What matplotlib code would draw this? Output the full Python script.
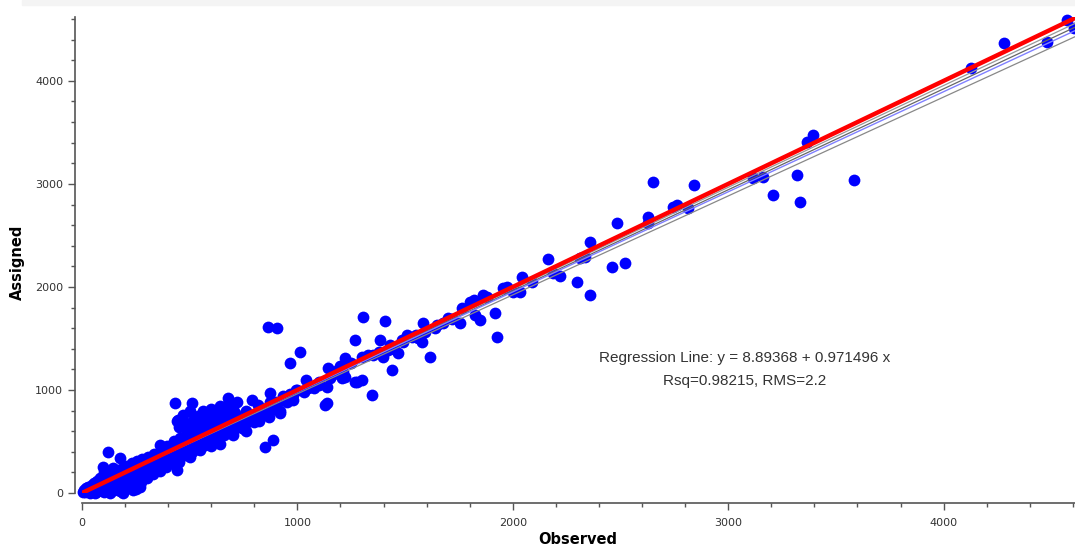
import numpy as np
import matplotlib.pyplot as plt
from matplotlib.patches import Rectangle
from matplotlib.ticker import MultipleLocator

# observed / assigned pairs
obs_a = [5, 10, 15, 20, 25, 30, 35, 40, 45, 50, 55, 60, 65, 70, 75, 80, 85, 90, 95, 100,
         105, 110, 115, 120, 125, 130, 135, 140, 145, 150, 160, 165, 170, 175, 180, 190, 195, 200, 205, 210,
         220, 225, 230, 240, 245, 250, 255, 260, 270, 275, 280, 290, 295, 300, 60, 100, 130, 150, 200,
         121, 237, 269, 190]
asg_a = [10, 30, 5, 50, 20, 60, 0, 40, 80, 20, 100, 50, 10, 120, 70, 30, 150, 90, 40, 200,
         110, 60, 160, 30, 130, 90, 180, 70, 240, 120, 60, 190, 140, 20, 230, 100, 170, 40, 260, 150,
         200, 90, 290, 140, 230, 40, 310, 180, 250, 110, 330, 200, 270, 150, 0, 10, 0, 30, 80,
         398, 29, 58, 0]

obs_b = [305, 315, 320, 330, 335, 345, 350, 360, 365, 375, 380, 390, 395, 405, 410, 420, 425, 435, 440, 450,
         455, 465, 470, 480, 485, 495, 500, 510, 515, 525, 530, 540, 545, 555, 560, 570, 575, 585, 590, 600,
         605, 615, 620, 630, 640, 650, 660, 665, 675, 690, 700, 710, 720, 735, 750, 760, 775, 790, 800, 815,
         830, 845, 860, 875, 890, 905, 920, 935, 950, 965, 980, 995]
asg_b = [350, 240, 300, 180, 380, 270, 330, 210, 420, 300, 370, 250, 460, 340, 400, 290, 500, 380, 440, 330,
         530, 420, 480, 370, 560, 450, 510, 400, 620, 490, 550, 430, 660, 520, 580, 470, 700, 560, 620, 500,
         740, 590, 650, 530, 700, 610, 560, 760, 640, 690, 600, 780, 660, 720, 640, 800, 700, 760, 690, 850,
         760, 820, 760, 880, 820, 870, 800, 940, 880, 960, 900, 1000]

obs_c = [432, 510, 445, 677, 687, 789, 872, 849, 886, 1137, 440, 470, 500, 520, 540, 560, 580, 600, 620, 640,
         660, 680, 700, 720, 450, 480, 510, 530, 550, 570, 590, 610, 630, 650, 670, 690,
         450, 500, 550, 600, 640, 700, 760, 820, 870, 920, 362, 441, 362, 283, 260, 176, 97,
         608, 742, 487, 580, 863, 905, 1012, 965]
asg_c = [873, 873, 708, 921, 824, 902, 970, 446, 514, 873, 700, 760, 800, 720, 750, 800, 760, 820, 780, 840,
         780, 860, 820, 880, 640, 680, 690, 640, 700, 660, 720, 700, 760, 720, 800, 750,
         300, 350, 420, 460, 480, 560, 600, 700, 740, 780, 466, 223, 242, 194, 291, 340, 252,
         640, 630, 611, 776, 1610, 1600, 1368, 1261]

obs_d = [1040, 1075, 1128, 1136, 1142, 1206, 1212, 1267, 1000, 1050, 1100, 1150, 1180, 1030, 980, 940, 900, 1100, 1160, 1220,
         1299, 1276, 1346, 1438, 1299, 1350, 1397, 1220, 1466, 1429, 1383, 1267, 1406, 1304, 1485, 1508, 1550, 1615, 1578, 1592,
         1582, 1647, 1675, 1754, 1926, 1916, 1847, 1824, 1763, 1800, 1861, 1955, 2000, 1972, 2042, 1820, 1880, 1700, 1720, 1640,
         1560, 1530, 1490, 1450, 1420, 1380, 1330, 1250, 1200]
asg_d = [1096, 1018, 854, 1028, 1212, 1115, 1173, 1077, 1000, 1020, 1080, 1120, 1180, 980, 950, 900, 880, 1050, 1150, 1125,
         1096, 1077, 950, 1193, 1319, 1339, 1319, 1309, 1358, 1435, 1484, 1484, 1668, 1707, 1484, 1532, 1532, 1319, 1465, 1562,
         1649, 1629, 1649, 1649, 1513, 1746, 1678, 1726, 1794, 1853, 1920, 1985, 1950, 1998, 2095, 1870, 1900, 1700, 1690, 1600,
         1500, 1510, 1470, 1400, 1390, 1370, 1340, 1260, 1230]

obs_e = [2032, 2088, 2297, 2218, 2186, 2459, 2520, 2162, 2311, 2334, 2357, 2483, 2626, 2626, 2812, 2742, 2761, 2840, 2650, 2357,
         3332, 3206, 3582, 3318, 3160, 3114, 3364, 3395, 4125, 4280, 4478, 4605, 4575]
asg_e = [1950, 2047, 2047, 2105, 2134, 2192, 2231, 2270, 2279, 2289, 2435, 2619, 2619, 2677, 2764, 2774, 2793, 2987, 3016, 1920,
         2822, 2890, 3036, 3084, 3065, 3055, 3410, 3472, 4122, 4365, 4374, 4510, 4590]

observed = np.array(obs_a + obs_b + obs_c + obs_d + obs_e)
assigned = np.array(asg_a + asg_b + asg_c + asg_d + asg_e)

intercept, slope = 8.89368, 0.971496
band_slopes = [0.988, 0.98, 0.96]
band_colors = ['#999999', '#666666', '#888888']

fig = plt.figure(figsize=(10.75, 5.53), dpi=100)
fig.patches.append(Rectangle((0.02, 1 - 5 / 553), 0.98, 5 / 553, transform=fig.transFigure,
                             color='#f4f4f4', zorder=0))
ax = fig.add_axes([82 / 1075, 60 / 553, 993 / 1075, 476 / 553])

ax.scatter(observed, assigned, s=72, color='#0000ff', linewidths=0, clip_on=False, zorder=2)

xs = np.array([0, 4700])
for b, c in zip(band_slopes, band_colors):
    ax.plot(xs, 3 + b * xs, color=c, lw=0.9, zorder=3)
ax.plot(xs, intercept + slope * xs, color='#8080ff', lw=1.0, zorder=3)
ax.plot(xs, xs, color='#ff0000', lw=3.2, zorder=4, solid_capstyle='round')

ax.set_xlim(0, 4610)
ax.set_ylim(0, 4620)
for s in ['top', 'right']:
    ax.spines[s].set_visible(False)
ax.spines['left'].set_position(('outward', 5))
ax.spines['bottom'].set_position(('outward', 7))
for s in ['left', 'bottom']:
    ax.spines[s].set_color('#555555')
    ax.spines[s].set_linewidth(1.2)

ax.xaxis.set_major_locator(MultipleLocator(1000))
ax.xaxis.set_minor_locator(MultipleLocator(200))
ax.yaxis.set_major_locator(MultipleLocator(1000))
ax.yaxis.set_minor_locator(MultipleLocator(200))
ax.tick_params(which='major', length=5, width=1, color='#555555', labelsize=8, labelcolor='#333333')
ax.tick_params(which='minor', length=3, width=1, color='#555555')
ax.tick_params(axis='x', pad=6)

ax.set_xlabel('Observed', fontsize=10.5, fontweight='bold')
ax.set_ylabel('Assigned', fontsize=10.5, fontweight='bold')
ax.xaxis.set_label_coords((578 - 82) / 993, -(532 - 493) / 476)
ax.yaxis.set_label_coords(-(82 - 25) / 993, (493 - 262) / 476)

fig.text(745 / 1075, 1 - 358 / 553, 'Regression Line: y = 8.89368 + 0.971496 x',
         ha='center', va='center', fontsize=11, family='Liberation Sans', color='#333333')
fig.text(745 / 1075, 1 - 381 / 553, 'Rsq=0.98215, RMS=2.2',
         ha='center', va='center', fontsize=11, family='Liberation Sans', color='#333333')

fig.savefig('out.png', dpi=100)
